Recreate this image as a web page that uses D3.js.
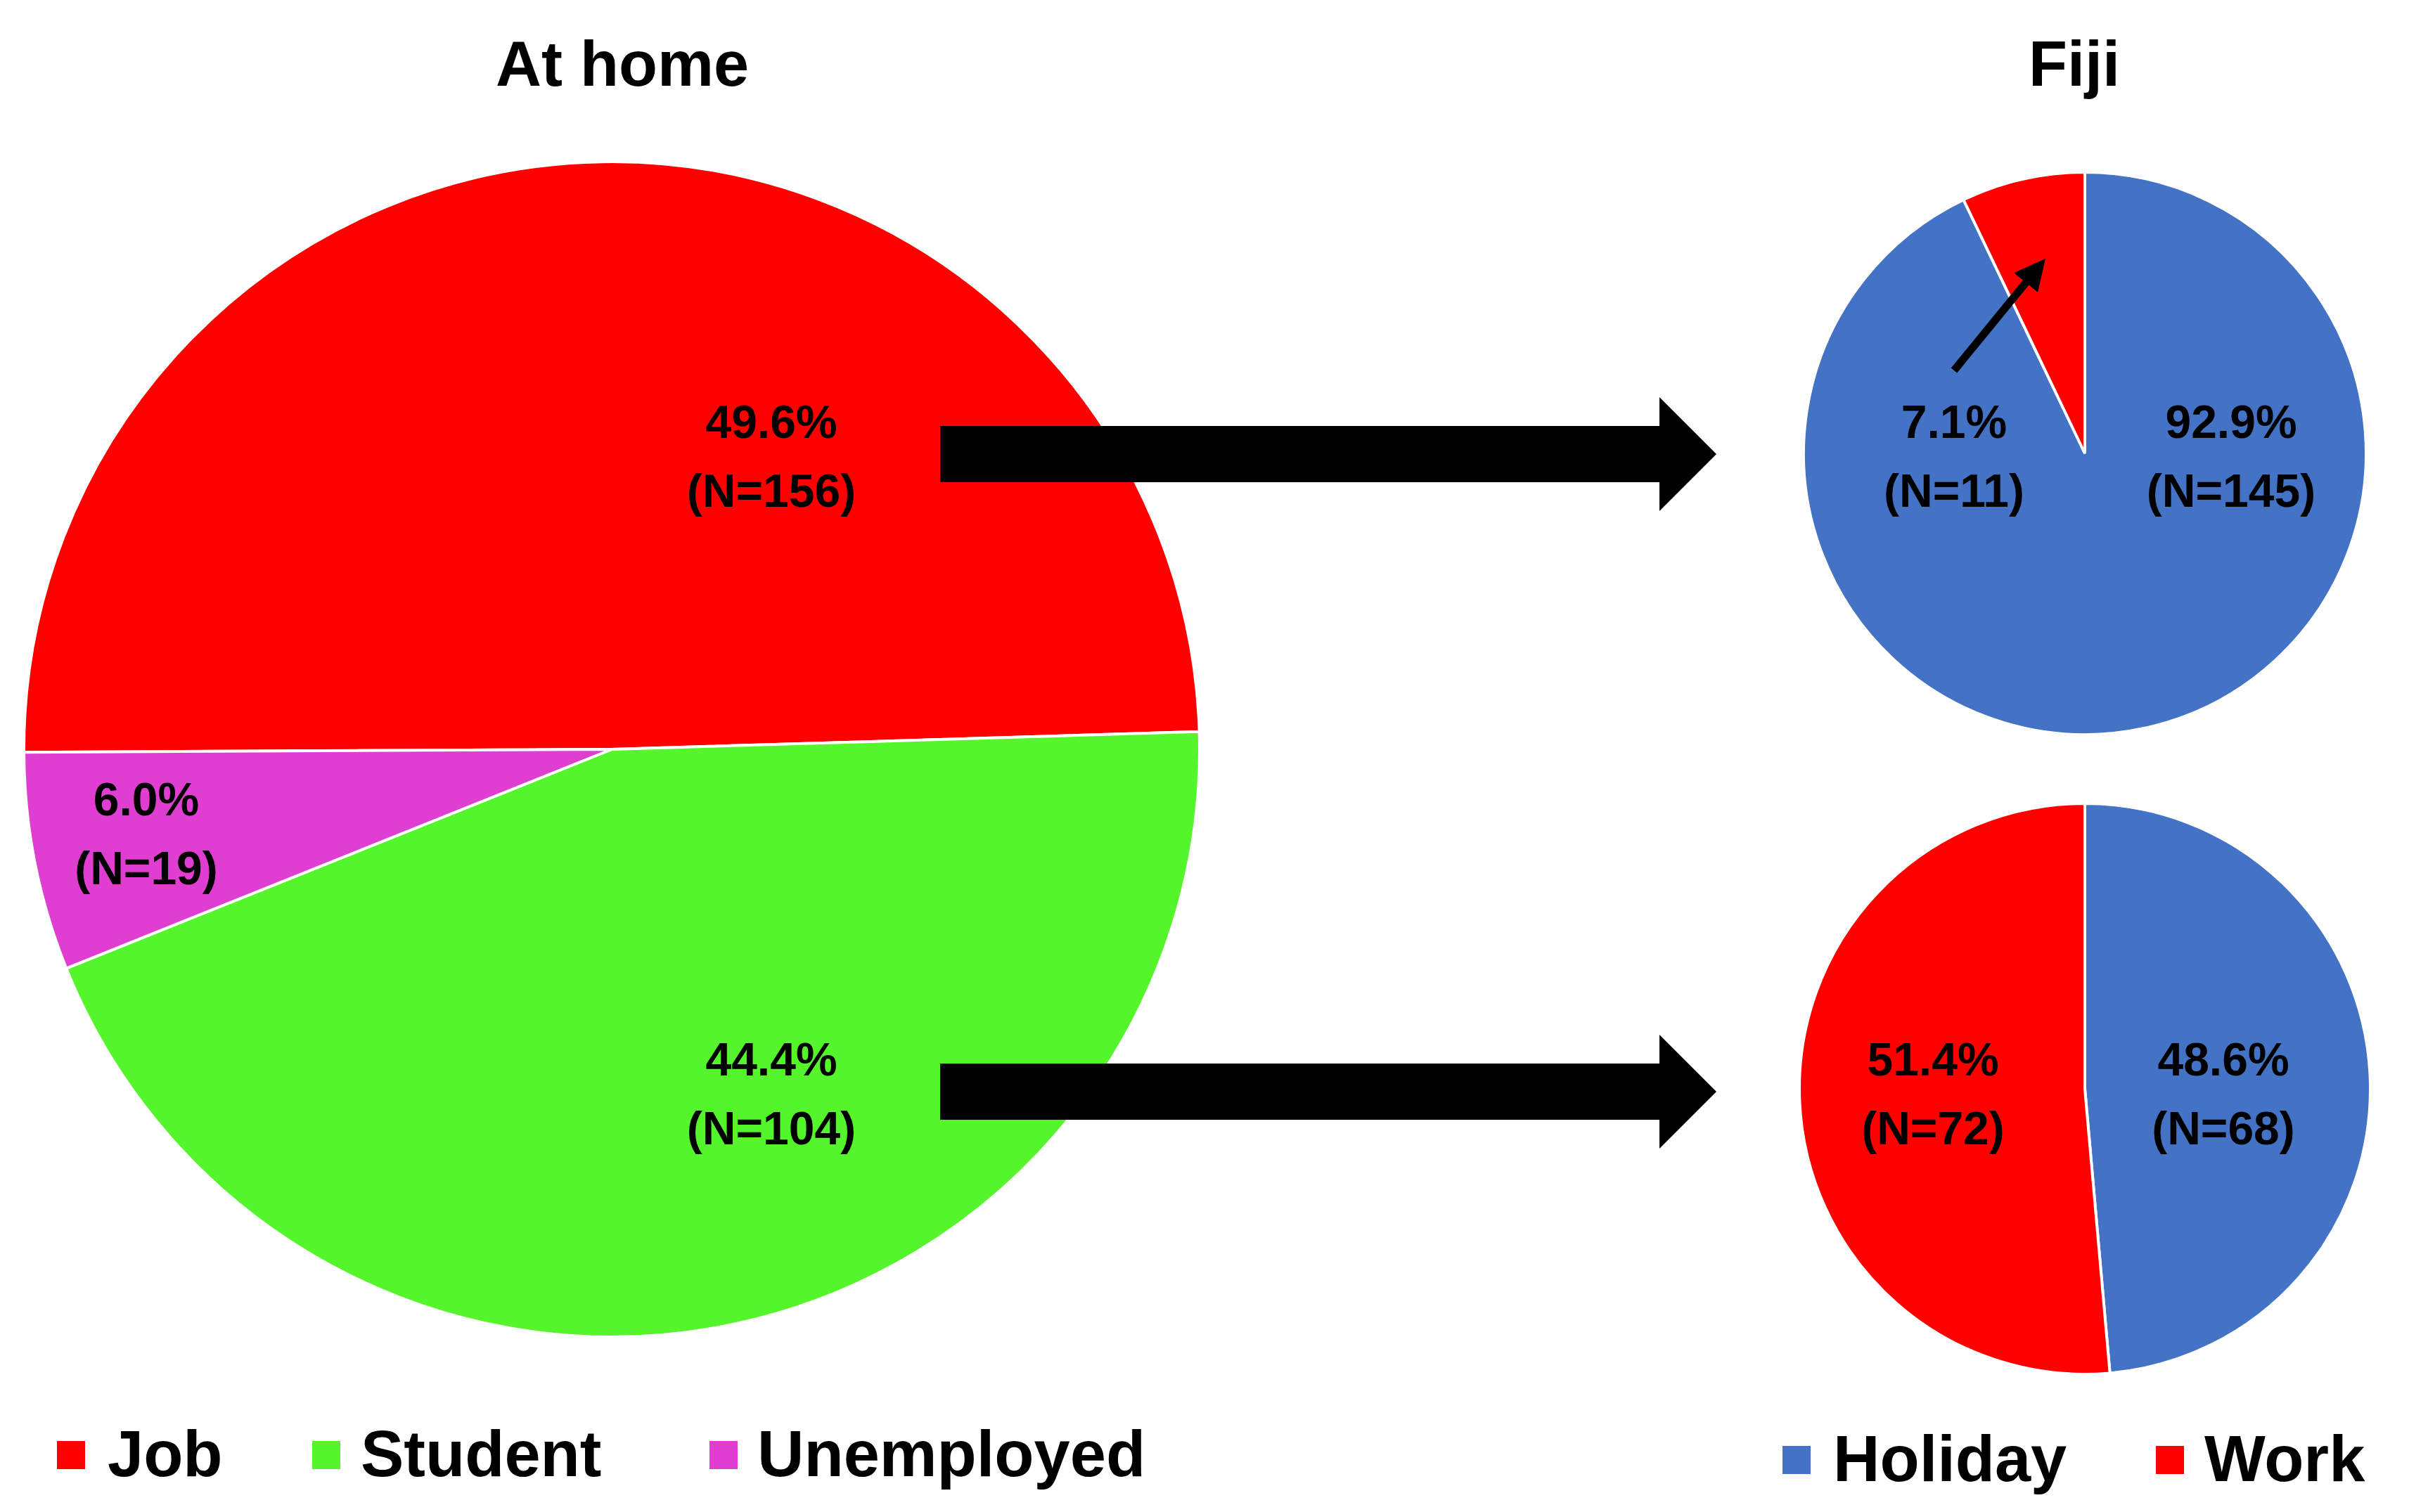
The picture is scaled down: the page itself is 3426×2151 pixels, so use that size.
<!DOCTYPE html>
<html><head><meta charset="utf-8">
<script src="https://cdn.jsdelivr.net/npm/d3@7"></script>
<style>body{margin:0;background:#fff}text{font-family:"Liberation Sans",Arial,sans-serif;font-weight:bold}</style>
</head><body><svg id="c" width="3426" height="2151"></svg>
<script>
const homeCats=["Job","Student","Unemployed"];
const homeVals=[156,104,19];
const homePct=["49.6%","44.4%","6.0%"];
const fijiCats=["Holiday","Work"];
const jobVals=[145,11];
const jobPct=["92.9%","7.1%"];
const studVals=[68,72];
const studPct=["48.6%","51.4%"];
const homeColors={Job:"#FF0000",Student:"#55F52B",Unemployed:"#E03ED0"};
const fijiColors={Holiday:"#4472C4",Work:"#FF0000"};

const svg=d3.select("#c");
const arc=r=>d3.arc().innerRadius(0).outerRadius(r);

function drawPie(cx,cy,r,cats,vals,colors,start){
  const pie=d3.pie().sort(null).value(d=>d.v).startAngle(start).endAngle(start+2*Math.PI);
  const data=pie(cats.map((c,i)=>({c,v:vals[i]})));
  const g=svg.append("g").attr("transform",`translate(${cx},${cy})`);
  g.selectAll("path").data(data).join("path").attr("d",arc(r)).attr("fill",d=>colors[d.data.c]).attr("stroke","#fff").attr("stroke-width",4);
}
// percentages as proportions of pie
drawPie(870,1066,836,homeCats,[49.6,44.4,6.0],homeColors,-Math.PI/2-0.005);
drawPie(2965,645,400,fijiCats,[92.9,7.1],fijiColors,0);
drawPie(2965,1549,406,fijiCats,[48.6,51.4],fijiColors,0);

function label(x,y,p,n){
  const t=svg.append("text").attr("text-anchor","middle").attr("font-size",66);
  t.append("tspan").attr("x",x).attr("y",y).text(p);
  t.append("tspan").attr("x",x).attr("y",y+98).text(`(N=${n})`);
}
label(1097,623,homePct[0],homeVals[0]);
label(1097,1530,homePct[1],homeVals[1]);
label(208,1160,homePct[2],homeVals[2]);
label(3173,623,jobPct[0],jobVals[0]);
label(2779,623,jobPct[1],jobVals[1]);
label(3162,1530,studPct[0],studVals[0]);
label(2749,1530,studPct[1],studVals[1]);

svg.append("text").attr("x",885).attr("y",122).attr("text-anchor","middle").attr("font-size",90).text("At home");
svg.append("text").attr("x",2950).attr("y",122).attr("text-anchor","middle").attr("font-size",90).text("Fiji");

function bigArrow(y){
  svg.append("path").attr("d",`M1337,${y-40}H2360V${y-81}L2441,${y}L2360,${y+81}V${y+40}H1337Z`).attr("fill","#000");
}
bigArrow(646);bigArrow(1553);
svg.append("defs").append("marker").attr("id","ah").attr("viewBox","0 0 10 10").attr("refX",5).attr("refY",5)
 .attr("markerWidth",4).attr("markerHeight",4).attr("orient","auto").append("path").attr("d","M0,0L10,5L0,10Z");
svg.append("line").attr("x1",2779).attr("y1",527).attr("x2",2895).attr("y2",385).attr("stroke","#000").attr("stroke-width",11).attr("marker-end","url(#ah)");

function legend(items,xs,txs,y,colors){
  items.forEach((c,i)=>{
    svg.append("rect").attr("x",xs[i]).attr("y",y-50).attr("width",40).attr("height",40).attr("fill",colors[c]);
    svg.append("text").attr("x",txs[i]).attr("y",y).attr("font-size",92).text(c);
  });
}
legend(homeCats,[81,444,1009],[153,513,1077],2100,homeColors);
legend(fijiCats,[2535,3066],[2607,3135],2107,fijiColors);
</script></body></html>
